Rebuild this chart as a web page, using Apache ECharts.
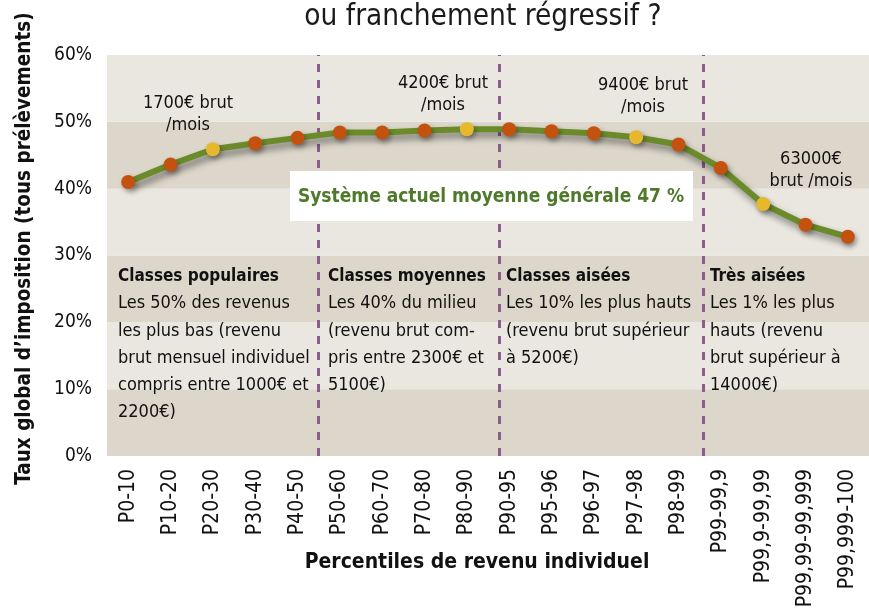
<!DOCTYPE html>
<html><head><meta charset="utf-8">
<script src="https://cdn.jsdelivr.net/npm/echarts@6/dist/echarts.min.js"></script>
<style>html,body{margin:0;padding:0;background:#fff}#c{width:869px;height:613px}</style>
</head><body><div id="c"></div>
<script>
const categories = ['P0-10','P10-20','P20-30','P30-40','P40-50','P50-60','P60-70','P70-80','P80-90','P90-95','P95-96','P96-97','P97-98','P98-99','P99-99,9','P99,9-99,99','P99,99-99,999','P99,999-100'];
const values = [41.0,43.6,45.9,46.8,47.6,48.4,48.4,48.7,48.9,48.9,48.6,48.3,47.7,46.6,43.1,37.7,34.6,32.8];
const highlighted = ['P20-30','P80-90','P97-98','P99,9-99,99'];
const dividers = [5.0, 9.27, 14.08];

const FONT = "'DejaVu Sans Condensed','Liberation Sans Narrow','Open Sans',sans-serif";
const chart = echarts.init(document.getElementById('c'), null, {renderer:'canvas'});

const pointData = values.map((v,i)=>({
  value: v,
  itemStyle: {color: highlighted.includes(categories[i]) ? '#E6B82E' : '#C4520F'}
}));

const txt = (x,y,text,opt={}) => ({
  type:'text', x:x, y:y, z:20, silent:true,
  style:Object.assign({text:text, font:'18px '+FONT, fill:'#111', lineHeight:22, align:'center', verticalAlign:'top'}, opt)
});

const classText = (x, head, body) => ({
  type:'text', x:x, y:263, z:20, silent:true,
  style:{
    text:'{h|'+head+'}\n{b|'+body.split('\n').join('}\n{b|')+'}',
    font:'18px '+FONT, fill:'#111', lineHeight:27.2, align:'left', verticalAlign:'top',
    rich:{
      h:{fontWeight:'bold', fontSize:17, fontFamily:FONT, fill:'#111', lineHeight:27.2},
      b:{fontSize:18, fontFamily:FONT, fill:'#111', lineHeight:27.2}
    }
  }
});

chart.setOption({
  animation:false,
  backgroundColor:'#ffffff',
  grid:{left:107, top:55, width:763, height:401, containLabel:false},
  xAxis:[{
    type:'category', data:categories, boundaryGap:true,
    axisLine:{show:false}, axisTick:{show:false},
    axisLabel:{rotate:90, margin:13, fontFamily:FONT, fontSize:21, color:'#111', interval:0},
    name:'Percentiles de revenu individuel', nameLocation:'middle', nameGap:96, nameMoveOverlap:false,
    nameTextStyle:{fontFamily:FONT, fontSize:21, fontWeight:'bold', color:'#111', padding:[0,22,0,0]}
  },{
    type:'value', min:0, max:18, show:false
  }],
  yAxis:{
    type:'value', min:0, max:60, interval:10,
    axisLine:{show:false}, axisTick:{show:false},
    splitLine:{show:false},
    splitArea:{show:true, areaStyle:{color:['#DDD7CB','#EAE7E0']}},
    axisLabel:{formatter:v=>v+'%', fontFamily:FONT, fontSize:19, color:'#111', margin:15},
    name:'Taux global d\u2019imposition (tous prélèvements)', nameLocation:'middle', nameGap:72, nameRotate:90,
    nameMoveOverlap:false,
    nameTextStyle:{fontFamily:FONT, fontSize:20.5, fontWeight:'bold', color:'#111', padding:[0,0,0,14]}
  },
  series:[{
    type:'line', xAxisIndex:1, data:[], silent:true,
    markLine:{
      silent:true, symbol:['none','none'], label:{show:false},
      lineStyle:{type:[8,8], width:3, color:'#8B5C8C'},
      data: dividers.map(d=>({xAxis:d}))
    }
  },{
    type:'line', data:pointData, symbol:'circle', symbolSize:14, z:5,
    lineStyle:{color:'#6B8B2A', width:6, shadowColor:'rgba(0,0,0,0.45)', shadowBlur:7, shadowOffsetX:3, shadowOffsetY:5},
    itemStyle:{shadowColor:'rgba(0,0,0,0.35)', shadowBlur:5, shadowOffsetX:2, shadowOffsetY:3, borderWidth:0},
    label:{show:false}
  }],
  graphic:[
    {type:'text', x:483, y:17, z:20, silent:true,
     style:{text:'ou franchement régressif ?', font:'29.5px '+FONT, fill:'#1a1a1a', align:'center', verticalAlign:'middle'}},
    txt(188,92,'1700€ brut\n/mois'),
    txt(443,72,'4200€ brut\n/mois'),
    txt(643,74,'9400€ brut\n/mois'),
    txt(811,148,'63000€\nbrut /mois'),
    {type:'rect', x:290, y:171, shape:{width:403, height:50}, style:{fill:'#ffffff'}, z:10, silent:true},
    {type:'text', x:491, y:197, z:11, silent:true,
     style:{text:'Système actuel moyenne générale 47 %', font:'bold 19px '+FONT, fill:'#4F7A2B', align:'center', verticalAlign:'middle'}},
    classText(118,'Classes populaires','Les 50% des revenus\nles plus bas (revenu\nbrut mensuel individuel\ncompris entre 1000€ et\n2200€)'),
    classText(328,'Classes moyennes','Les 40% du milieu\n(revenu brut com-\npris entre 2300€ et\n5100€)'),
    classText(506,'Classes aisées','Les 10% les plus hauts\n(revenu brut supérieur\nà 5200€)'),
    classText(710,'Très aisées','Les 1% les plus\nhauts (revenu\nbrut supérieur à\n14000€)')
  ]
});
</script></body></html>
